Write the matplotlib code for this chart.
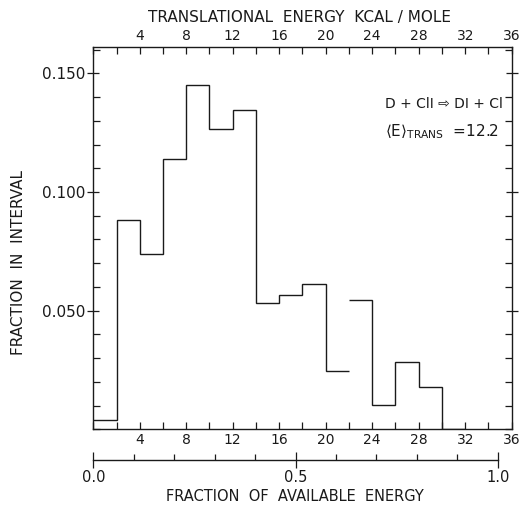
import numpy as np
import matplotlib
matplotlib.use("Agg")
from matplotlib import pyplot as plt
from matplotlib.ticker import MultipleLocator, FixedLocator

# product translational energy distribution, 2 kcal/mole bins
bin_edges = np.arange(0, 32, 2)
fraction = [0.004, 0.088, 0.074, 0.114, 0.145, 0.1265, 0.1345, 0.053,
            0.0565, 0.0613, 0.0245, 0.0543, 0.0102, 0.0284, 0.0179]
# the bins 20-22 and 22-24 are not joined in the histogram
split_bin = 11
e_available = 34.8  # kcal/mole, end of the fraction scale

x_ticks = [4, 8, 12, 16, 20, 24, 28, 32, 36]
y_ticks = [0.050, 0.100, 0.150]
y_ticklabels = ["0.050", "0.100", "0.150"]
frac_ticks = [0.0, 0.5, 1.0]
frac_ticklabels = ["0.0", "0.5", "1.0"]

ink = "#1a1a1a"
plt.rcParams["font.family"] = ["DejaVu Sans"]
plt.rcParams["text.color"] = ink
plt.rcParams["axes.edgecolor"] = ink
plt.rcParams["xtick.color"] = ink
plt.rcParams["ytick.color"] = ink

fig = plt.figure(figsize=(5.24, 5.05), dpi=100)
left, bottom, width, height = 0.178, 0.150, 0.7985, 0.7565
ax = fig.add_axes([left, bottom, width, height])

ax.stairs(fraction[:split_bin], bin_edges[:split_bin + 1], baseline=None,
          color=ink, linewidth=1.0)
ax.stairs(fraction[split_bin:] + [0.0], bin_edges[split_bin:].tolist() + [32],
          baseline=None, color=ink, linewidth=1.0)

ax.set_xlim(0, 36)
ax.set_ylim(0, 0.161)
for s in ax.spines.values():
    s.set_linewidth(1.0)

ax.xaxis.set_major_locator(FixedLocator(x_ticks))
ax.xaxis.set_minor_locator(MultipleLocator(2))
ax.tick_params(axis="x", which="both", direction="in", top=True, bottom=True,
               labeltop=True, length=5, width=0.9, labelsize=10, pad=3)

ax.set_yticks(y_ticks)
ax.set_yticklabels(y_ticklabels)
ax.yaxis.set_minor_locator(MultipleLocator(0.01))
ax.tick_params(axis="y", which="major", direction="inout", left=True,
               right=True, length=9, width=0.9, labelsize=11, pad=1)
ax.tick_params(axis="y", which="minor", direction="in", left=True,
               right=True, length=5, width=0.9)

ax.text(25.1, 0.137, "D + ClI \u21e8 DI + Cl", fontsize=10, va="center")
ax.text(25.1, 0.1255, r"$\langle\mathrm{E}\rangle_{\mathrm{TRANS}}$  =12.2",
        fontsize=11, va="center")

fig.text(0.571, 0.966, "TRANSLATIONAL  ENERGY  KCAL / MOLE", ha="center",
         va="center", fontsize=11)
fig.text(0.035, 0.48, "FRACTION  IN  INTERVAL", rotation=90, ha="center",
         va="center", fontsize=11)

# fraction of available energy scale under the main axis
frac_ax = fig.add_axes([left, 0.089, width * e_available / 36, 0.0001])
frac_ax.set_xlim(0, 1)
frac_ax.patch.set_visible(False)
for side in ["top", "left", "right"]:
    frac_ax.spines[side].set_visible(False)
frac_ax.spines["bottom"].set_linewidth(1.0)
frac_ax.set_yticks([])
frac_ax.set_xticks(frac_ticks)
frac_ax.set_xticklabels(frac_ticklabels)
frac_ax.xaxis.set_minor_locator(MultipleLocator(0.1))
frac_ax.tick_params(axis="x", which="major", direction="inout", length=12,
                    width=0.9, labelsize=10.5, pad=1)
frac_ax.tick_params(axis="x", which="minor", direction="in", length=4,
                    width=0.9)
fig.text(0.563, 0.016, "FRACTION  OF  AVAILABLE  ENERGY", ha="center",
         va="center", fontsize=10.5)

fig.savefig("out.png", dpi=100)
